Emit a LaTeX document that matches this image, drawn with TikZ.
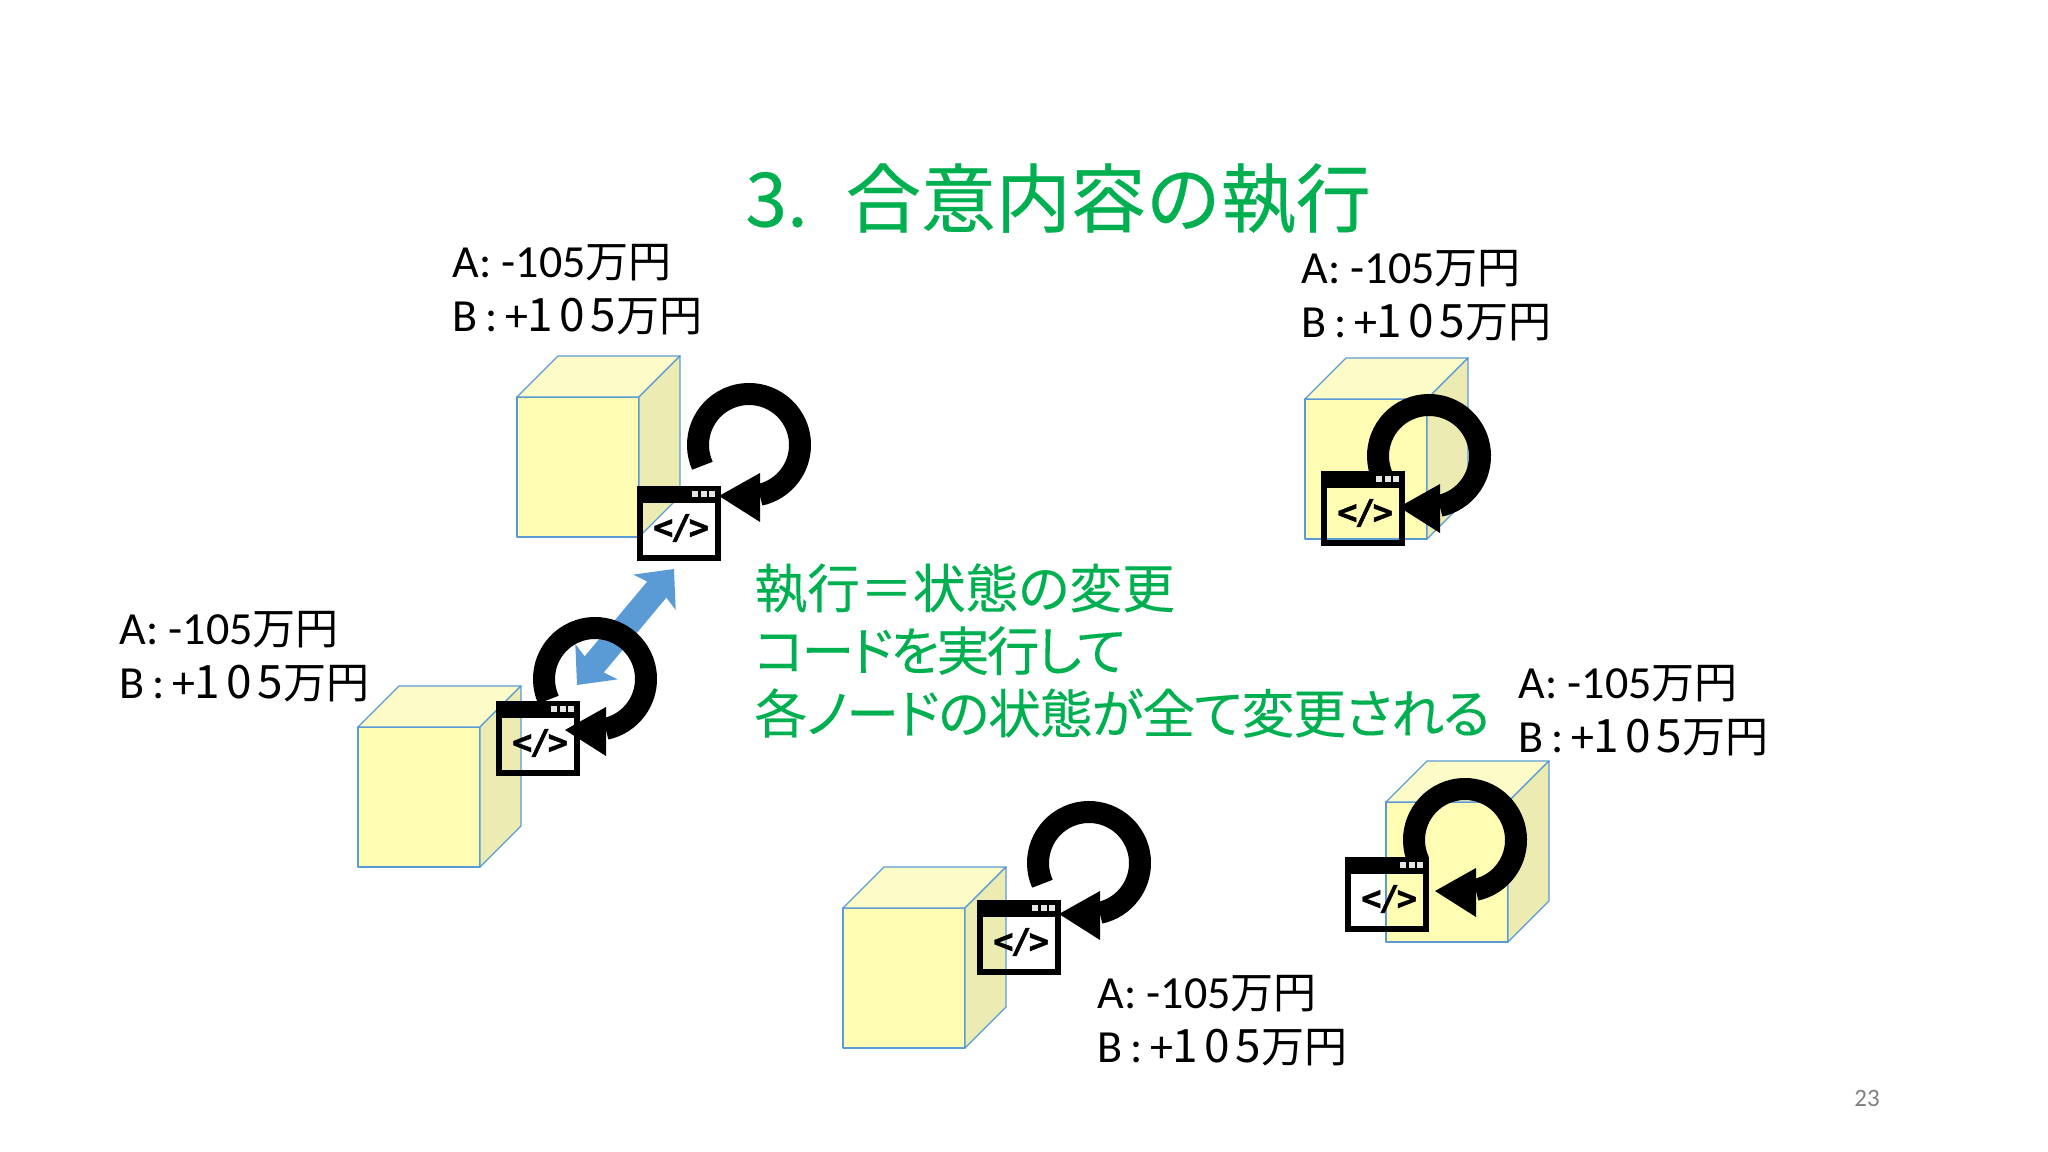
\documentclass[tikz,border=0pt]{standalone}
\usepackage{fontspec}
\setmainfont{Carlito}
\newfontfamily\jafont{Noto Sans CJK JP}
\newfontfamily\jawide{Noto Sans CJK JP}[LetterSpace=13]
\newfontfamily\jahead{Noto Sans CJK JP}[FakeBold=0.35]
\newfontfamily\japrop{Noto Sans CJK JP}[RawFeature=+palt, FakeBold=0.15]
\newfontfamily\japropA{Noto Sans CJK JP}[RawFeature=+palt, FakeBold=0.15, LetterSpace=-5]
\newfontfamily\japropB{Noto Sans CJK JP}[RawFeature=+palt, FakeBold=0.15, LetterSpace=-2]
\newfontfamily\codefont{DejaVu Sans Mono Bold}[FakeBold=1.2, LetterSpace=-8]
\usetikzlibrary{arrows.meta}
\usetikzlibrary{positioning}
\definecolor{heading}{HTML}{00B050}
\definecolor{edge}{HTML}{5B9BD5}
\definecolor{front}{HTML}{FFFDB4}
\definecolor{lid}{HTML}{FDFCC8}
\definecolor{flank}{HTML}{ECEBB2}
\newcommand{\yen}{{\jafont\fontsize{21.5}{27}\selectfont 万円}}
\newcommand{\balance}{A: -105\yen\\B\,:\,+{\jawide 105}\yen}
\tikzset{
    x = 0.5pt, y = 0.5pt,
    balancetext/.style = {anchor = north west, inner sep = 0, align = left, font = \fontsize{23}{27}\selectfont},
    greentext/.style = {anchor = north west, inner sep = 0, align = left, text = heading},
    facet/.style = {draw = edge, line width = 0.65pt, line join = round},
    pics/cube/.style = {code = {
        \filldraw [facet, fill = front] (0, 0) rectangle (122, 140);
        \filldraw [facet, fill = lid] (0, 140) -- (41, 181) -- (163, 181) -- (122, 140) -- cycle;
        \filldraw [facet, fill = flank] (122, 0) -- (163, 41) -- (163, 181) -- (122, 140) -- cycle;
    }},
    pics/refresh/.style = {code = {
        \draw [line width = 11pt] (204:51) arc [start angle = 204, end angle = -78, radius = 51];
        \fill (-30, -51) -- (11, -28) -- (11, -77) -- cycle;
    }},
    pics/window/.style = {code = {
        \draw [line width = 2.75pt] (3, 3) rectangle (81, 72);
        \fill (0, 58) rectangle (84, 75);
        \foreach \s in {55, 64, 72} {
            \fill [white!90!black] (\s, 64) rectangle ++(6, 6);
        }
        \node [inner sep = 0, font = \codefont\fontsize{17}{17}\selectfont] (glyph) at (44, 33) {</>};
    }},
}
\begin{document}
\begin{tikzpicture}
    \useasboundingbox (0, 0) rectangle (2048, 1151);

    \node [greentext, font = \jahead\fontsize{37.5}{37.5}\selectfont] (title) at (745, 988) {3.\hspace{19pt}合意内容の執行};
    \node [greentext, font = \japrop\fontsize{26.4}{31.3}\selectfont] (summary) at (754, 588) {執行＝状態の変更\\{\japropA コードを実行して}\\{\japropB 各ノードの状態が全て変更される}};

    \foreach \i/\x/\y in {1/452/907, 2/119/540, 3/1301/901, 4/1518/486, 5/1097/176} {
        \node [balancetext] (balance\i) at (\x, \y) {\balance};
    }

    \foreach \i/\x/\y in {1/517/614, 2/358/284, 3/1305/612, 4/1386/209, 5/843/103} {
        \pic (cube\i) at (\x, \y) {cube};
    }

    \coordinate (synctop) at (674, 582);
    \coordinate (syncbottom) at (577, 466);
    \draw [edge, line width = 12.5pt, {Stealth[length = 15pt, width = 27pt, inset = 3pt]}-{Stealth[length = 15pt, width = 27pt, inset = 3pt]}] (syncbottom) -- (synctop);

    \foreach \i/\x/\y in {1/749/706, 2/595/472, 3/1429/695, 4/1465/311, 5/1089/288} {
        \pic (refresh\i) at (\x, \y) {refresh};
    }
    \foreach \i/\x/\y in {1/637/590, 2/496/375, 3/1321/605, 4/1345/219, 5/977/176} {
        \pic (window\i) at (\x, \y) {window};
    }

    \node [text = black!50, inner sep = 0, font = \fontsize{12.5}{12.5}\selectfont] (pagenum) at (1867, 53) {23};
\end{tikzpicture}
\end{document}
